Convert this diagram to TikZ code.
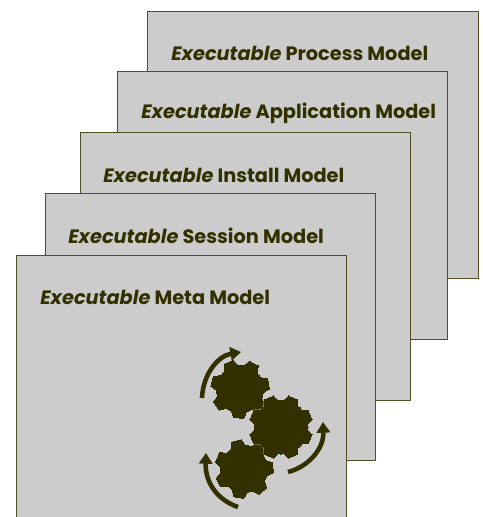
\documentclass[tikz,border=0pt]{standalone}
\usepackage{fontspec}
\setmainfont{Poppins}[BoldFont={* Bold},BoldItalicFont={* Bold Italic}]
\usetikzlibrary{arrows.meta}
\definecolor{ink}{RGB}{51,48,0}
\definecolor{sheet}{RGB}{204,204,204}
\tikzset{
  x=0.75pt,y=-0.75pt,
  layer/.style={draw=ink!85!white,line width=0.85pt,fill=sheet,anchor=north west,inner sep=0pt},
  title/.style={anchor=west,inner sep=0pt,text=ink,font=\fontsize{14.5pt}{16pt}\selectfont\bfseries},
  turn/.style={draw=ink,line width=3.4pt,-{Triangle[length=8pt,width=10pt]}},
}
\newcommand{\gearshape}[6]{% x y root tip phase teeth
  \foreach \pass/\col/\lw in {1/sheet/0.9pt,2/ink/0pt}{
    \path[fill=\col,draw=\col,line width=\lw] (#1,#2) circle[radius=#3*0.75pt];
    \foreach \k in {1,...,#6}{
      \path[fill=\col,draw=\col,line width=\lw,shift={(#1,#2)},rotate=#5+\k*360/#6]
        (-7.5,-#3+1) -- (-5,-#4) -- (5,-#4) -- (7.5,-#3+1) -- cycle;
    }
  }
}
\begin{document}
\begin{tikzpicture}
\useasboundingbox (0,0) rectangle (482,517);
\node[layer,minimum width=331*0.75pt,minimum height=267*0.75pt] (process) at (147,11) {};
\node[title] (processT) at (171,53) {\textit{Executable} Process Model};
\node[layer,minimum width=330*0.75pt,minimum height=268*0.75pt] (application) at (117,71) {};
\node[title] (applicationT) at (141,113) {\textit{Executable} Application Model};
\node[layer,minimum width=330*0.75pt,minimum height=268*0.75pt] (install) at (80,132) {};
\node[title] (installT) at (103,175) {\textit{Executable} Install Model};
\node[layer,minimum width=330*0.75pt,minimum height=267*0.75pt] (session) at (45,193) {};
\node[title] (sessionT) at (68,236) {\textit{Executable} Session Model};
\node[layer,minimum width=330*0.75pt,minimum height=270*0.75pt] (meta) at (16,255) {};
\node[title] (metaT) at (40,297) {\textit{Executable} Meta Model};
\gearshape{240}{389}{23.5}{29}{23}{7}
\gearshape{244}{469}{23.5}{29}{15}{7}
\gearshape{281}{427}{27}{31.5}{22.5}{8}
\draw[turn] (202,398) .. controls (203,374) and (218,356) .. (241,352);
\draw[turn] (288,472) .. controls (308,467) and (324,449) .. (323,422);
\draw[turn] (238,507) .. controls (220,501) and (205,485) .. (206,453);
\end{tikzpicture}
\end{document}
